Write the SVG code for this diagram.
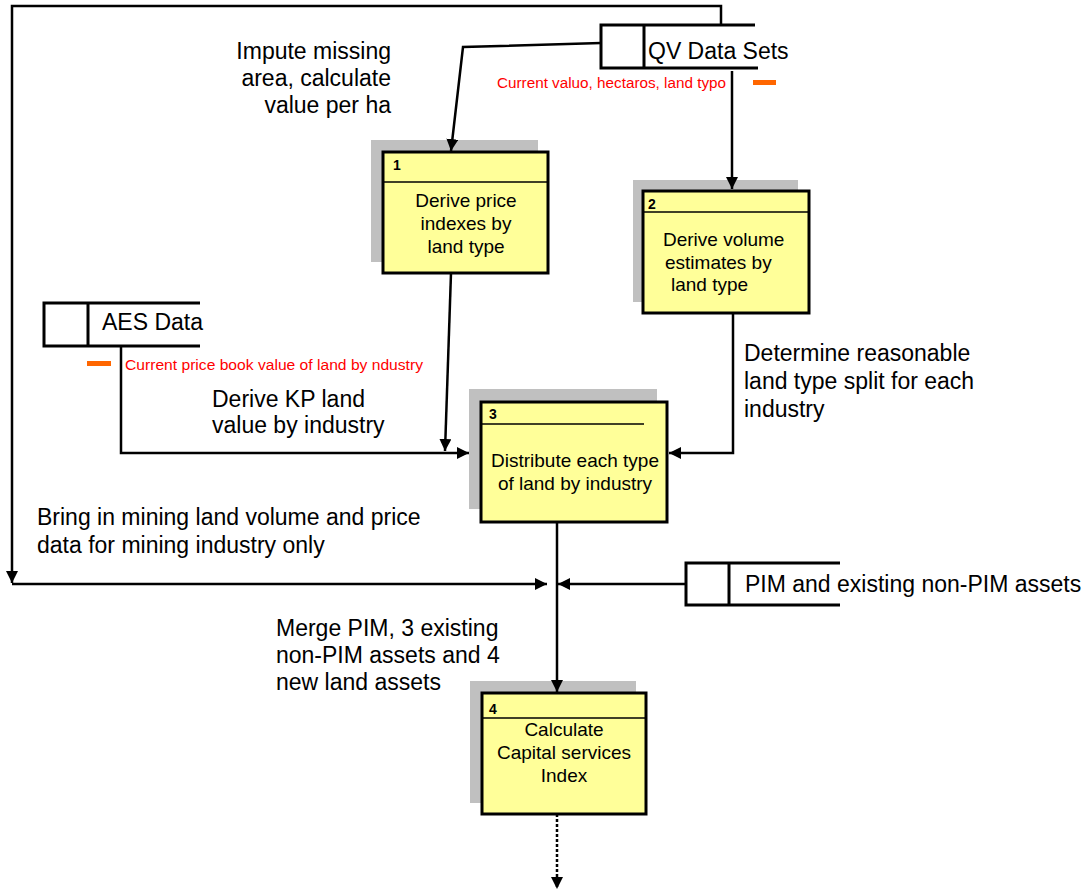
<svg xmlns="http://www.w3.org/2000/svg" width="1088" height="891" viewBox="0 0 1088 891">
<style>
  text { font-family: "Liberation Sans", Arial, sans-serif; fill: #000; }
  .lbl { font-size: 23px; }
  .btxt { font-size: 19px; }
  .num { font-size: 14px; font-weight: bold; }
  .red { font-size: 14px; fill: #ff0000; }
  .shadow { fill: #c0c0c0; stroke: none; }
  .box { fill: #ffff99; stroke: #000; stroke-width: 3; }
  .hdr { stroke: #000; stroke-width: 1.5; }
  .ds { fill: none; stroke: #000; stroke-width: 3; }
  .ln { fill: none; stroke: #000; stroke-width: 2.5; }
  .orange { fill: #ff6600; }
</style>
<defs>
  <marker id="ah" markerUnits="userSpaceOnUse" markerWidth="12" markerHeight="12" viewBox="0 0 12 12" refX="12" refY="6" orient="auto">
    <path d="M0,0 L12,6 L0,12 Z" fill="#000"/>
  </marker>
</defs>

<g id="qv-data-sets">
  <path class="ds" d="M755,25 H601 V68 H758 M644,25 V68"/>
  <text class="lbl" x="648" y="59">QV Data Sets</text>
  <text class="red" x="497" y="88" textLength="229" lengthAdjust="spacingAndGlyphs">Current valuo, hectaros, land typo</text>
  <rect class="orange" x="753" y="80" width="23" height="5"/>
</g>

<g id="aes-data">
  <path class="ds" d="M200,303 H44 V346 H200 M88,303 V346"/>
  <text class="lbl" x="102" y="330">AES Data</text>
  <rect class="orange" x="87" y="361" width="24" height="5"/>
  <text class="red" x="125" y="370" textLength="298" lengthAdjust="spacingAndGlyphs">Current price book value of land by  ndustry</text>
</g>

<g id="pim-assets">
  <path class="ds" d="M840,563 H686 V605 H840 M729,563 V605"/>
  <text class="lbl" x="745" y="592">PIM and existing non-PIM assets</text>
</g>

<g id="process-1">
  <rect class="shadow" x="371" y="140" width="167" height="122"/>
  <rect class="box" x="383" y="152" width="165" height="121"/>
  <line class="hdr" x1="383" y1="182" x2="548" y2="182"/>
  <text class="num" x="393" y="170">1</text>
  <text class="btxt" x="466" y="207" text-anchor="middle">Derive price</text>
  <text class="btxt" x="466" y="230" text-anchor="middle">indexes by</text>
  <text class="btxt" x="466" y="253" text-anchor="middle">land type</text>
</g>

<g id="process-2">
  <rect class="shadow" x="633" y="180" width="165" height="122"/>
  <rect class="box" x="643" y="191" width="166" height="122"/>
  <line class="hdr" x1="643" y1="212" x2="809" y2="212"/>
  <text class="num" x="648" y="209">2</text>
  <text class="btxt" x="663" y="246">Derive volume</text>
  <text class="btxt" x="665" y="269">estimates by</text>
  <text class="btxt" x="671" y="291">land type</text>
</g>

<g id="process-3">
  <rect class="shadow" x="469" y="389" width="188" height="120"/>
  <rect class="box" x="481" y="402" width="186" height="120"/>
  <line class="hdr" x1="481" y1="424" x2="644" y2="424"/>
  <text class="num" x="489" y="419" font-weight="normal">3</text>
  <text class="btxt" x="575" y="467" text-anchor="middle">Distribute each type</text>
  <text class="btxt" x="575" y="490" text-anchor="middle">of land by industry</text>
</g>

<g id="process-4">
  <rect class="shadow" x="470" y="681" width="166" height="122"/>
  <rect class="box" x="482" y="693" width="164" height="121"/>
  <line class="hdr" x1="482" y1="718" x2="646" y2="718"/>
  <text class="num" x="489" y="714" font-weight="normal">4</text>
  <text class="btxt" x="564" y="736" text-anchor="middle">Calculate</text>
  <text class="btxt" x="564" y="759" text-anchor="middle">Capital services</text>
  <text class="btxt" x="564" y="782" text-anchor="middle">Index</text>
</g>

<g id="labels">
  <text class="lbl" x="391" y="59" text-anchor="end">Impute missing</text>
  <text class="lbl" x="391" y="86" text-anchor="end">area, calculate</text>
  <text class="lbl" x="391" y="113" text-anchor="end">value per ha</text>
  <text class="lbl" x="212" y="407">Derive KP land</text>
  <text class="lbl" x="212" y="433">value by industry</text>
  <text class="lbl" x="744" y="361">Determine reasonable</text>
  <text class="lbl" x="744" y="389">land type split for each</text>
  <text class="lbl" x="744" y="417">industry</text>
  <text class="lbl" x="37" y="525">Bring in mining land volume and price</text>
  <text class="lbl" x="37" y="553">data for mining industry only</text>
  <text class="lbl" x="276" y="636">Merge PIM, 3 existing</text>
  <text class="lbl" x="276" y="663">non-PIM assets and 4</text>
  <text class="lbl" x="276" y="690">new land assets</text>
</g>

<g id="connectors">
  <path class="ln" d="M721,25 V6 H12 V583" marker-end="url(#ah)"/>
  <path class="ln" d="M12,584 H547" marker-end="url(#ah)"/>
  <path class="ln" d="M601,43 L463,47 L451,151" marker-end="url(#ah)"/>
  <path class="ln" d="M732,71 V189" marker-end="url(#ah)"/>
  <path class="ln" d="M451,273 L445,451" marker-end="url(#ah)"/>
  <path class="ln" d="M121,347 V453 H469" marker-end="url(#ah)"/>
  <path class="ln" d="M733,313 V453 H669" marker-end="url(#ah)"/>
  <path class="ln" d="M557,522 V692" marker-end="url(#ah)"/>
  <path class="ln" d="M686,584 H558" marker-end="url(#ah)"/>
  <path class="ln" d="M557,814 V889" stroke-dasharray="3,2" marker-end="url(#ah)"/>
</g>
</svg>
